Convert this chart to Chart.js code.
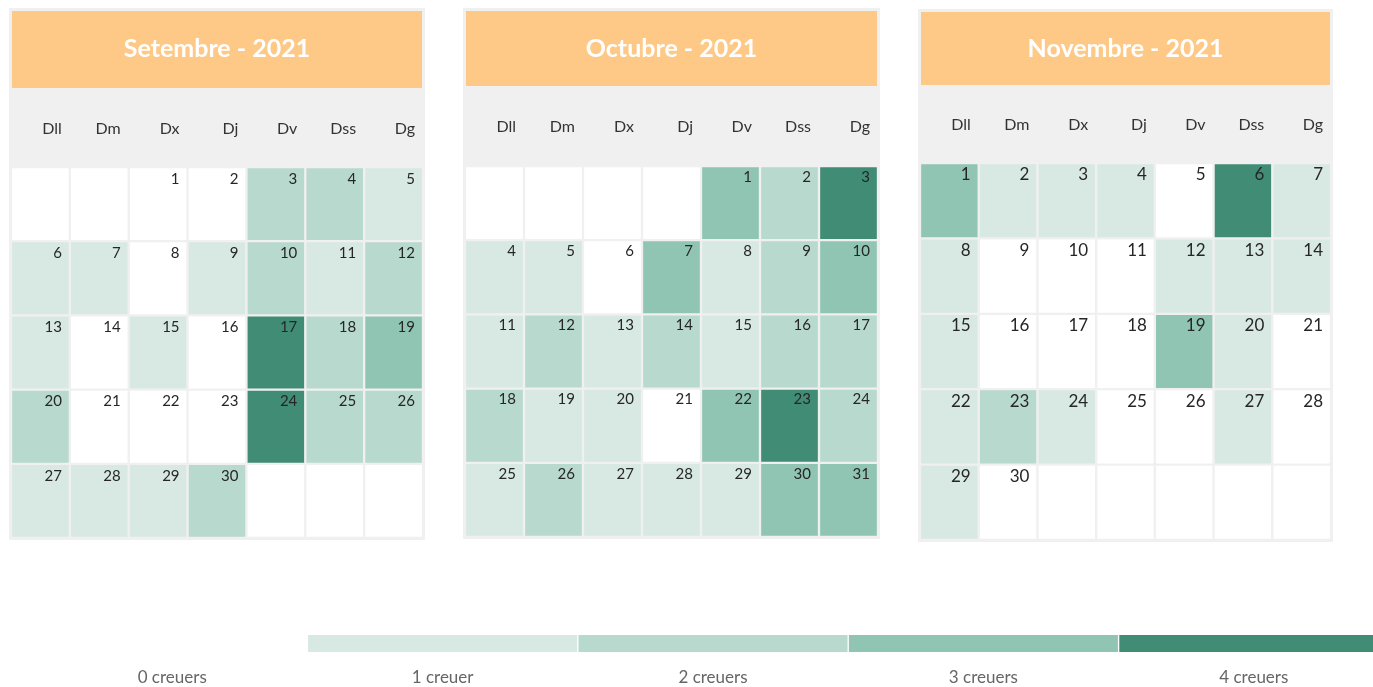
<!DOCTYPE html>
<html><head><meta charset="utf-8">
<script src="https://cdn.jsdelivr.net/npm/chart.js@4.4.1/dist/chart.umd.min.js"></script>
<style>
html,body{margin:0;padding:0;background:#fff;width:1373px;height:687px;overflow:hidden;position:relative}
canvas{position:absolute}
</style></head><body>
<canvas id="c1" width="416" height="532" style="left:9px;top:8px"></canvas>
<canvas id="c2" width="417" height="531" style="left:463px;top:8px"></canvas>
<canvas id="c3" width="415" height="533" style="left:918px;top:9px"></canvas>
<canvas id="cl" width="1352" height="72" style="left:37px;top:615px"></canvas>
<script>
const weekdays = ['Dll','Dm','Dx','Dj','Dv','Dss','Dg'];
const monthTitles = ['Setembre - 2021','Octubre - 2021','Novembre - 2021'];
const sepStartCol = 2;
const octStartCol = 4;
const novStartCol = 0;
const sepCruises = [0,0,2,2,1, 1,1,0,1,2,1,2, 1,0,1,0,4,2,3, 2,0,0,0,4,2,2, 1,1,1,2];
const octCruises = [3,2,4, 1,1,0,3,1,2,3, 1,2,1,2,1,2,2, 2,1,1,0,3,4,2, 1,2,1,1,1,3,3];
const novCruises = [3,1,1,1,0,4,1, 1,0,0,0,1,1,1, 1,0,0,0,3,1,0, 1,2,1,0,0,1,0, 1,0];
const legendLabels = ['0 creuers','1 creuer','2 creuers','3 creuers','4 creuers'];
const levelColors = ['#ffffff','#d8e9e3','#b8d9ce','#8fc5b2','#418c74'];

const FONT = 'Lato, "Open Sans", sans-serif';
const GRAY = '#f0f0f0';
const ORANGE = '#fec987';

function makeMonth(id, title, values, startCol, cfg) {
  const rows = 5;
  const datasets = [];
  const dayNums = [];
  for (let r = 0; r < rows; r++) {
    const data = [], colors = [], nums = [];
    for (let c = 0; c < 7; c++) {
      const idx = r * 7 + c - startCol;
      data.push([r, r + 1]);
      if (idx >= 0 && idx < values.length) {
        colors.push(levelColors[values[idx]]);
        nums.push(idx + 1);
      } else {
        colors.push('#ffffff');
        nums.push(null);
      }
    }
    dayNums.push(nums);
    datasets.push({
      data, backgroundColor: colors, borderColor: GRAY, borderWidth: 1.5,
      borderSkipped: false, grouped: false, barPercentage: 1, categoryPercentage: 1
    });
  }
  const deco = {
    id: 'deco' + id,
    beforeDraw(chart) {
      const ctx = chart.ctx, W = chart.width, H = chart.height;
      ctx.save();
      ctx.fillStyle = GRAY;
      ctx.fillRect(0, 0, W, H);
      ctx.fillStyle = ORANGE;
      ctx.fillRect(3, 3, W - 6, cfg.headerH);
      ctx.fillStyle = '#ffffff';
      ctx.font = 'bold 25px ' + FONT;
      ctx.textAlign = 'center';
      ctx.textBaseline = 'middle';
      ctx.fillText(title, W / 2, cfg.titleY);
      const xs = chart.scales.x;
      const half = (xs.getPixelForValue(1) - xs.getPixelForValue(0)) / 2;
      ctx.fillStyle = '#333333';
      ctx.font = '16px ' + FONT;
      ctx.textAlign = 'right';
      weekdays.forEach((w, i) => {
        ctx.fillText(w, xs.getPixelForValue(i) + half - 8, cfg.dayY);
      });
      ctx.restore();
    },
    afterDatasetsDraw(chart) {
      const ctx = chart.ctx;
      ctx.save();
      ctx.fillStyle = '#262626';
      ctx.font = cfg.numFont + 'px ' + FONT;
      ctx.textAlign = 'right';
      ctx.textBaseline = 'middle';
      chart.data.datasets.forEach((ds, r) => {
        const meta = chart.getDatasetMeta(r);
        meta.data.forEach((bar, c) => {
          const n = dayNums[r][c];
          if (n == null) return;
          const right = bar.x + bar.width / 2;
          const top = Math.min(bar.y, bar.base);
          ctx.fillText(String(n), right - cfg.numDx, top + cfg.numDy);
        });
      });
      ctx.restore();
    }
  };
  new Chart(document.getElementById(id), {
    type: 'bar',
    data: { labels: weekdays, datasets },
    options: {
      responsive: false, animation: false, devicePixelRatio: 1,
      layout: { padding: { left: 2, right: 2, top: cfg.padTop, bottom: 2 } },
      plugins: { legend: { display: false }, tooltip: { enabled: false } },
      scales: {
        x: { type: 'category', display: false, offset: true },
        y: { type: 'linear', display: false, min: 0, max: rows, reverse: true }
      }
    },
    plugins: [deco]
  });
}

makeMonth('c1', monthTitles[0], sepCruises, sepStartCol,
  { headerH: 77, titleY: 41, dayY: 121, padTop: 159, numFont: 15, numDx: 8, numDy: 12 });
makeMonth('c2', monthTitles[1], octCruises, octStartCol,
  { headerH: 75, titleY: 41, dayY: 119, padTop: 158, numFont: 15, numDx: 8, numDy: 11 });
makeMonth('c3', monthTitles[2], novCruises, novStartCol,
  { headerH: 73, titleY: 40, dayY: 116, padTop: 154, numFont: 17, numDx: 8, numDy: 12 });

// legend scale
new Chart(document.getElementById('cl'), {
  type: 'bar',
  data: {
    labels: legendLabels,
    datasets: [{
      data: legendLabels.map(() => [0, 1]),
      backgroundColor: levelColors,
      borderColor: '#ffffff',
      borderWidth: { left: 1, right: 1, top: 0, bottom: 0 },
      borderSkipped: false, barPercentage: 1, categoryPercentage: 1
    }]
  },
  options: {
    responsive: false, animation: false, devicePixelRatio: 1,
    layout: { padding: { left: 0, right: 0, top: 20, bottom: 35 } },
    plugins: { legend: { display: false }, tooltip: { enabled: false } },
    scales: {
      x: { type: 'category', display: false, offset: true },
      y: { type: 'linear', display: false, min: 0, max: 1 }
    }
  },
  plugins: [{
    id: 'legendLabels',
    afterDraw(chart) {
      const ctx = chart.ctx, xs = chart.scales.x;
      ctx.save();
      ctx.fillStyle = '#666666';
      ctx.font = '17px ' + FONT;
      ctx.textAlign = 'center';
      ctx.textBaseline = 'middle';
      legendLabels.forEach((l, i) => ctx.fillText(l, xs.getPixelForValue(i), 63));
      ctx.restore();
    }
  }]
});
</script>
</body></html>
